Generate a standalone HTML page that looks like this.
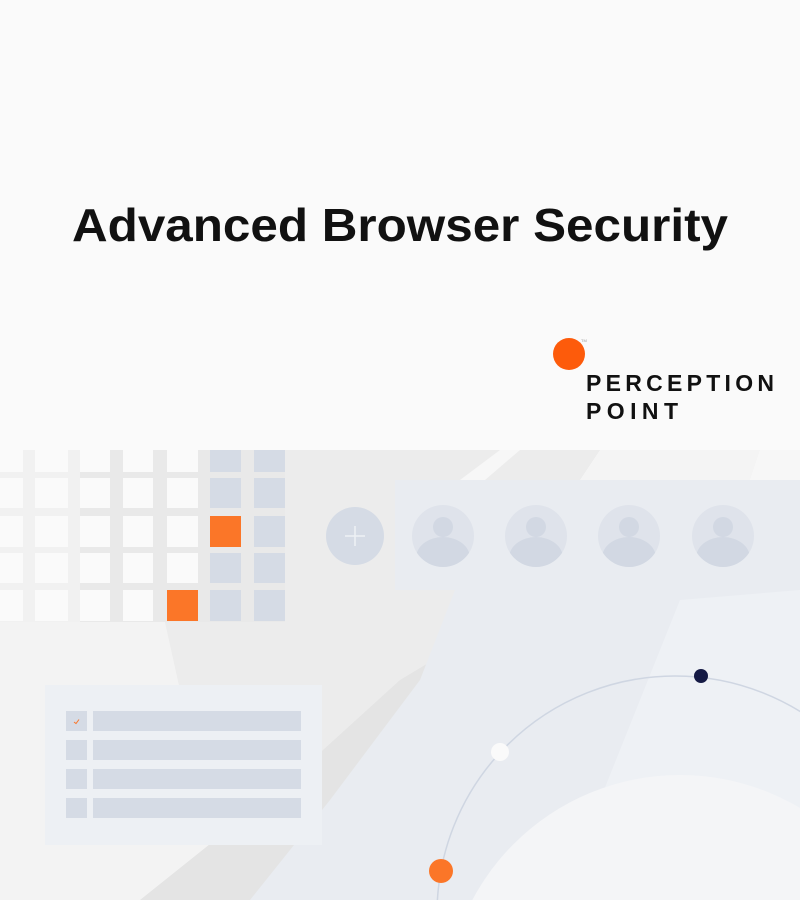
<!DOCTYPE html>
<html style="overflow:hidden"><head><style>
html,body{margin:0;width:800px;height:900px;overflow:hidden;background:#fafafa;font-family:"Liberation Sans",sans-serif;}
svg{overflow:hidden}
</style></head><body>
<svg width="800" height="900" viewBox="0 0 800 900" style="position:absolute;left:0;top:0;display:block">
<rect x="0" y="450" width="800" height="450" fill="#ececec"/>
<polygon points="0,620 110,620 160,600 180,690 250,900 0,900" fill="#f3f3f3"/>
<polygon points="140,900 290,780 400,680 500,620 560,590 800,590 800,900" fill="#e4e4e4"/>
<polygon points="455,590 800,590 800,900 250,900 330,800 420,680" fill="#e9ecf1"/>
<polygon points="680,600 800,590 800,900 560,900" fill="#eef1f5"/>
<circle cx="680" cy="1010" r="235" fill="#f4f5f7"/>
<polygon points="500,450 520,450 485,480 460,480" fill="#f7f7f7"/>
<polygon points="600,450 770,450 760,480 580,480" fill="#f4f4f4"/>
<polygon points="760,450 800,450 800,480 750,480" fill="#f7f7f7"/>
<rect x="0" y="450" width="285" height="172" fill="#e9e9e9"/>
<g fill="#fafafa">
<rect x="0" y="450" width="23" height="22"/><rect x="35" y="450" width="33" height="22"/><rect x="80" y="450" width="30" height="22"/><rect x="123" y="450" width="30" height="22"/><rect x="167" y="450" width="31" height="22"/>
<rect x="0" y="478" width="23" height="30"/><rect x="35" y="478" width="33" height="30"/><rect x="80" y="478" width="30" height="30"/><rect x="123" y="478" width="30" height="30"/><rect x="167" y="478" width="31" height="30"/>
<rect x="0" y="516" width="23" height="31"/><rect x="35" y="516" width="33" height="31"/><rect x="80" y="516" width="30" height="31"/><rect x="123" y="516" width="30" height="31"/><rect x="167" y="516" width="31" height="31"/>
<rect x="0" y="553" width="23" height="30"/><rect x="35" y="553" width="33" height="30"/><rect x="80" y="553" width="30" height="30"/><rect x="123" y="553" width="30" height="30"/><rect x="167" y="553" width="31" height="30"/>
<rect x="0" y="590" width="23" height="31"/><rect x="35" y="590" width="33" height="31"/><rect x="80" y="590" width="30" height="31"/><rect x="123" y="590" width="30" height="31"/>
</g>
<rect x="0" y="450" width="80" height="172" fill="#fafafa" opacity="0.5"/>
<g fill="#d5dbe5">
<rect x="210" y="450" width="31" height="22"/><rect x="254" y="450" width="31" height="22"/>
<rect x="210" y="478" width="31" height="30"/><rect x="254" y="478" width="31" height="30"/>
<rect x="254" y="516" width="31" height="31"/>
<rect x="210" y="553" width="31" height="30"/><rect x="254" y="553" width="31" height="30"/>
<rect x="210" y="590" width="31" height="31"/><rect x="254" y="590" width="31" height="31"/>
</g>
<rect x="210" y="516" width="31" height="31" fill="#fb7628"/>
<rect x="167" y="590" width="31" height="31" fill="#fb7628"/>
<circle cx="355" cy="536" r="29" fill="#d5dbe5"/>
<path d="M345 536h20M355 526v20" stroke="#eef1f5" stroke-width="1.5"/>
<rect x="395" y="480" width="405" height="110" fill="#e9ecf1"/>
<defs><clipPath id="c1"><circle cx="0" cy="0" r="31"/></clipPath></defs>
<g transform="translate(443,536)"><circle r="31" fill="#dfe3eb"/><circle cy="-9" r="10" fill="#d2d8e3"/><g clip-path="url(#c1)"><ellipse cy="22" rx="27" ry="21" fill="#d2d8e3"/></g></g>
<g transform="translate(536,536)"><circle r="31" fill="#dfe3eb"/><circle cy="-9" r="10" fill="#d2d8e3"/><g clip-path="url(#c1)"><ellipse cy="22" rx="27" ry="21" fill="#d2d8e3"/></g></g>
<g transform="translate(629,536)"><circle r="31" fill="#dfe3eb"/><circle cy="-9" r="10" fill="#d2d8e3"/><g clip-path="url(#c1)"><ellipse cy="22" rx="27" ry="21" fill="#d2d8e3"/></g></g>
<g transform="translate(723,536)"><circle r="31" fill="#dfe3eb"/><circle cy="-9" r="10" fill="#d2d8e3"/><g clip-path="url(#c1)"><ellipse cy="22" rx="27" ry="21" fill="#d2d8e3"/></g></g>
<rect x="45" y="685" width="277" height="160" fill="#edf0f4"/>
<g fill="#d5dbe5">
<rect x="66" y="711" width="21" height="20"/><rect x="93" y="711" width="208" height="20"/>
<rect x="66" y="740" width="21" height="20"/><rect x="93" y="740" width="208" height="20"/>
<rect x="66" y="769" width="21" height="20"/><rect x="93" y="769" width="208" height="20"/>
<rect x="66" y="798" width="21" height="20"/><rect x="93" y="798" width="208" height="20"/>
</g>
<path d="M74 722l2 1.5 3-4" stroke="#fb7628" stroke-width="1" fill="none"/>
<circle cx="675" cy="914" r="238" fill="none" stroke="#cfd6e2" stroke-width="1.5"/>
<circle cx="701" cy="676" r="7" fill="#151a45"/>
<circle cx="500" cy="752" r="9" fill="#fafafa"/>
<circle cx="441" cy="871" r="12" fill="#fb7628"/>
<circle cx="569" cy="354" r="16" fill="#fd5b0b"/>
<text x="581" y="342" font-size="4" fill="#999">TM</text>
<text x="400" y="241" text-anchor="middle" font-size="46" font-weight="bold" fill="#111" textLength="656" lengthAdjust="spacingAndGlyphs">Advanced Browser Security</text>
<text x="586" y="391" font-size="23" font-weight="bold" fill="#111" textLength="188" lengthAdjust="spacing">PERCEPTION</text>
<text x="586" y="419" font-size="23" font-weight="bold" fill="#111" textLength="92" lengthAdjust="spacing">POINT</text>
</svg>
</body></html>
